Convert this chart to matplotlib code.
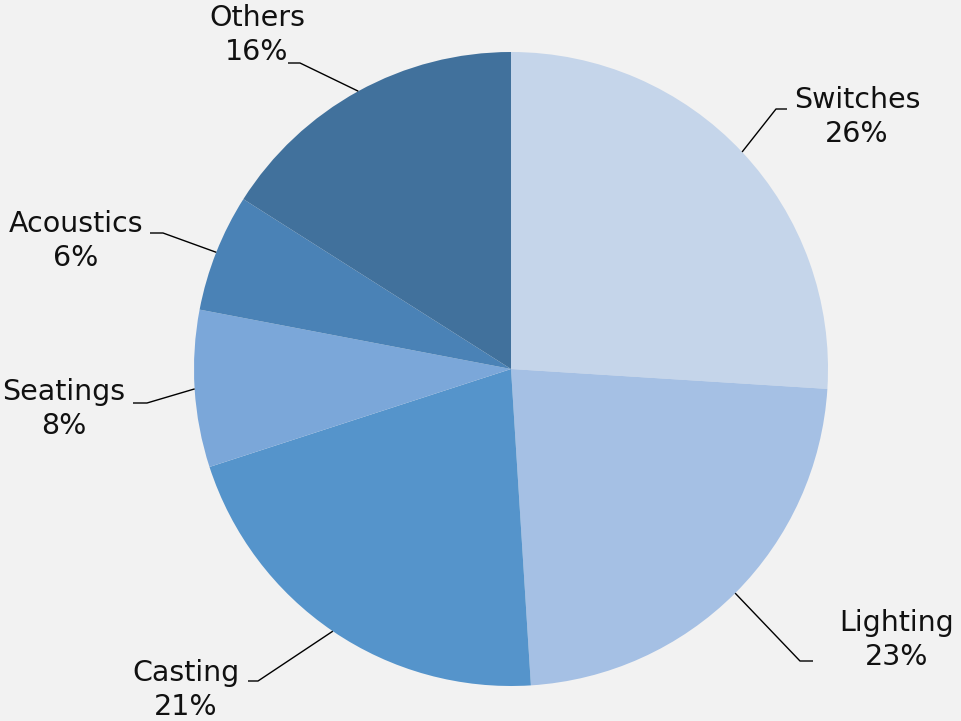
import matplotlib
matplotlib.use('Agg')
import matplotlib.pyplot as plt
import numpy as np

categories = ['Switches', 'Lighting', 'Casting', 'Seatings', 'Acoustics', 'Others']
shares = [26, 23, 21, 8, 6, 16]
colors = ['#c5d5ea', '#a5c0e4', '#5594cb', '#7ba7d9', '#4a82b6', '#41719c']

# layout (pixel coordinates, y measured from top)
W, H = 961, 721
CX, CY, R = 511, 369, 317
elbows = [(776, 109), (800, 661), (258, 681), (147, 403), (163, 233), (300, 63)]
ends = [(787, 109), (813, 661), (248, 681), (133, 403), (150, 233), (288, 63)]
text_pos = [(857, 117), (897, 640), (186, 690), (64, 409), (76, 241), (257, 35)]

BG = '#f2f2f2'
fig = plt.figure(figsize=(W / 100, H / 100), dpi=100, facecolor=BG)
ax = fig.add_axes([0, 0, 1, 1])
ax.set_facecolor(BG)

wedges, _ = ax.pie(shares, colors=colors, startangle=90, counterclock=False,
                   radius=R, center=(CX, H - CY),
                   wedgeprops=dict(linewidth=0))
ax.set_xlim(0, W)
ax.set_ylim(0, H)
ax.set_aspect('equal')
ax.axis('off')

for w, cat, v, el, en, tp in zip(wedges, categories, shares, elbows, ends, text_pos):
    mid = np.deg2rad((w.theta1 + w.theta2) / 2)
    ax_x = CX + R * np.cos(mid)
    ax_y = (H - CY) + R * np.sin(mid)
    ax.plot([ax_x, el[0], en[0]], [ax_y, H - el[1], H - en[1]],
            color='black', lw=1.0, solid_capstyle='butt')
    ax.text(tp[0], H - tp[1], f"{cat}\n{v}%", ha='center', va='center',
            multialignment='center', fontsize=20.5, color='#111111',
            family='DejaVu Sans', linespacing=1.3)

fig.savefig('out.png', dpi=100, facecolor=BG)
